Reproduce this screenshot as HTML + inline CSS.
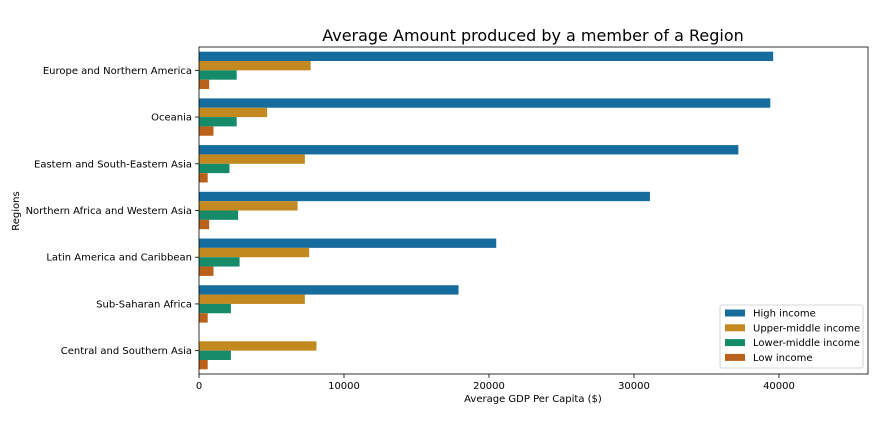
<!DOCTYPE html>
<html><head><meta charset="utf-8"><style>
body{margin:0;background:#fff;font-family:"DejaVu Sans",sans-serif;}
svg text{font-family:"DejaVu Sans",sans-serif;fill:#000;}
</style></head><body>
<svg id="chart" width="890" height="421">
<text x="533" y="41" font-size="16" text-anchor="middle">Average Amount produced by a member of a Region</text>
<text x="533" y="402" font-size="10" text-anchor="middle">Average GDP Per Capita ($)</text>
<text transform="translate(19,211) rotate(-90)" font-size="10" text-anchor="middle">Regions</text>
<g id="bars"></g><g id="axes"></g>
</svg>
<script>
const regions=["Europe and Northern America","Oceania","Eastern and South-Eastern Asia","Northern Africa and Western Asia","Latin America and Caribbean","Sub-Saharan Africa","Central and Southern Asia"];
const seriesNames=["High income","Upper-middle income","Lower-middle income","Low income"];
const highIncome=[39600,39400,37200,31100,20500,17900,0];
const upperMiddle=[7700,4700,7300,6800,7600,7300,8100];
const lowerMiddle=[2600,2600,2100,2700,2800,2200,2200];
const lowIncome=[700,1000,600,700,1000,600,600];
const xTicks=[0,10000,20000,30000,40000];
const colors=["#166c9c","#c38820","#158b6a","#ba621b"];
const series=[highIncome,upperMiddle,lowerMiddle,lowIncome];
const NS="http://www.w3.org/2000/svg";
const L=199,R=868,T=47,B=374,xMax=46140;
const x=v=>L+v/xMax*(R-L);
const band=(B-T)/regions.length;
const yc=i=>T+band*(i+0.5);
const bh=band*0.8/4;
function mk(tag,attrs,parent){const e=document.createElementNS(NS,tag);for(const k in attrs)e.setAttribute(k,attrs[k]);parent.appendChild(e);return e;}
const gb=document.getElementById("bars"),ga=document.getElementById("axes");
series.forEach((s,si)=>{s.forEach((v,i)=>{
 const r=mk("rect",{x:x(0),y:yc(i)-band*0.4+si*bh,width:Math.max(0,x(v)-x(0)),height:bh,fill:colors[si]},gb);
 
 
});});
const fr=mk("rect",{x:L,y:T,width:R-L,height:B-T,fill:"none",stroke:"#000","stroke-width":0.8},ga);


xTicks.forEach(t=>{
 mk("line",{x1:x(t),x2:x(t),y1:B,y2:B+4,stroke:"#000","stroke-width":0.8},ga);
 const tx=mk("text",{x:x(t),y:B+15,"font-size":10,"text-anchor":"middle"},ga);tx.textContent=t;
 
 
});
regions.forEach((r,i)=>{
 mk("line",{x1:L-4,x2:L,y1:yc(i),y2:yc(i),stroke:"#000","stroke-width":0.8},ga);
 const tx=mk("text",{x:L-7,y:yc(i)+3.5,"font-size":10,"text-anchor":"end"},ga);tx.textContent=r;
 
 
});
const lg=mk("g",{},ga);


mk("rect",{x:720,y:305,width:143,height:63,rx:2,fill:"#fff",stroke:"#ccc","stroke-width":0.8},lg);
seriesNames.forEach((n,i)=>{
 const yy=313+i*14.8;
 mk("rect",{x:725,y:yy-3.5,width:20,height:7,fill:colors[i]},lg);
 const tx=mk("text",{x:753,y:yy+3.5,"font-size":10},lg);tx.textContent=n;
 
 
});
</script>
</body></html>
